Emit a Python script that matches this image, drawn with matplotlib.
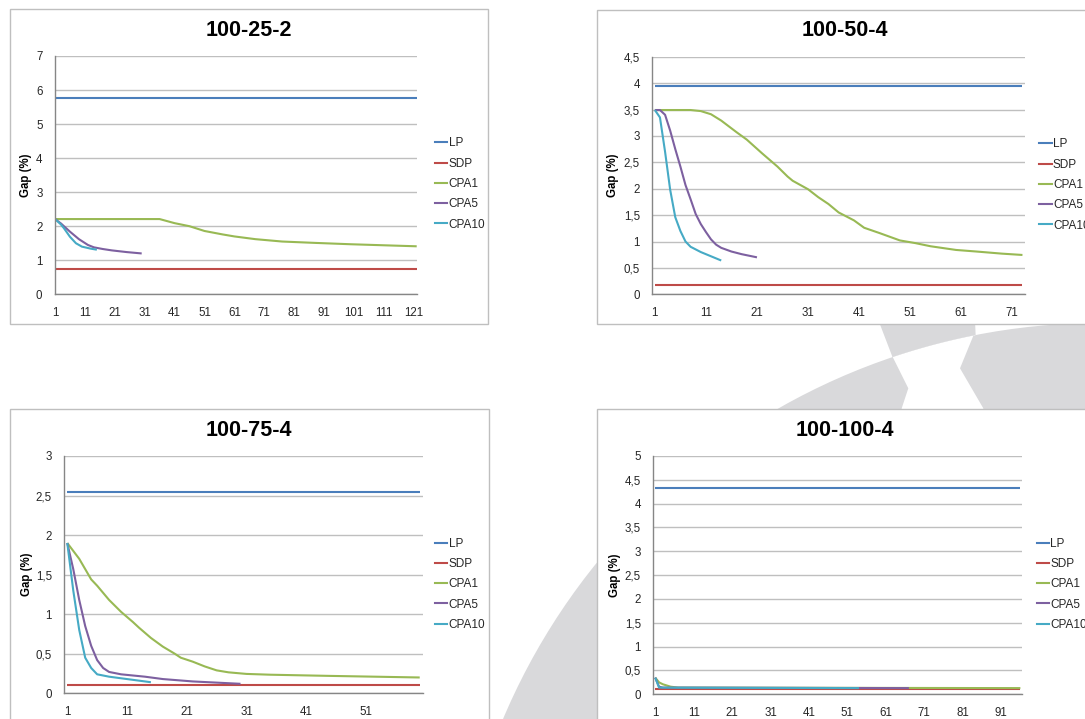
import numpy as np
import matplotlib
matplotlib.use("Agg")
import matplotlib.pyplot as plt
from matplotlib.patches import Rectangle, Circle, Polygon
from matplotlib import transforms
from matplotlib.lines import Line2D

# ---------------- data ----------------
series_names = ["LP", "SDP", "CPA1", "CPA5", "CPA10"]
series_colors = ["#4A7EBB", "#BE4B48", "#98B954", "#7D60A0", "#46AAC5"]

# Panel 1: 100-25-2
p1_title = "100-25-2"
p1_n = 122
p1_lp = 5.76
p1_sdp = 0.75
p1_cpa1_x = [1, 36, 41, 46, 51, 57, 61, 68, 77, 88, 100, 111, 122]
p1_cpa1_y = [2.21, 2.21, 2.09, 2.00, 1.86, 1.76, 1.70, 1.62, 1.55, 1.51, 1.47, 1.44, 1.41]
p1_cpa5_x = [1, 3, 6, 9, 12, 14, 17, 20, 25, 30]
p1_cpa5_y = [2.21, 2.08, 1.84, 1.62, 1.45, 1.38, 1.33, 1.29, 1.24, 1.20]
p1_cpa10_x = [1, 3, 4, 6, 8, 10, 13, 15]
p1_cpa10_y = [2.21, 2.05, 1.94, 1.69, 1.50, 1.40, 1.34, 1.31]
p1_yticks = [0, 1, 2, 3, 4, 5, 6, 7]
p1_ylabels = ["0", "1", "2", "3", "4", "5", "6", "7"]
p1_xticks = [1, 11, 21, 31, 41, 51, 61, 71, 81, 91, 101, 111, 121]

# Panel 2: 100-50-4
p2_title = "100-50-4"
p2_n = 73
p2_lp = 3.95
p2_sdp = 0.18
p2_cpa1_x = [1, 8, 10, 12, 14, 17, 19, 22, 25, 27, 28, 31, 33, 35, 37, 40, 42, 45, 49, 52, 55, 60, 64, 69, 73]
p2_cpa1_y = [3.49, 3.49, 3.47, 3.41, 3.29, 3.07, 2.93, 2.67, 2.42, 2.23, 2.15, 1.99, 1.84, 1.71, 1.55,
             1.40, 1.26, 1.16, 1.02, 0.97, 0.91, 0.84, 0.81, 0.77, 0.745]
p2_cpa5_x = [1, 2, 3, 4, 5, 6, 7, 8, 9, 10, 11, 12, 13, 14, 16, 18, 21]
p2_cpa5_y = [3.49, 3.49, 3.40, 3.10, 2.75, 2.42, 2.07, 1.80, 1.52, 1.33, 1.18, 1.04, 0.94, 0.88, 0.81, 0.76, 0.70]
p2_cpa10_x = [1, 2, 3, 4, 5, 6, 7, 8, 10, 12, 14]
p2_cpa10_y = [3.49, 3.35, 2.70, 1.98, 1.46, 1.20, 1.00, 0.90, 0.80, 0.72, 0.64]
p2_yticks = [0, 0.5, 1, 1.5, 2, 2.5, 3, 3.5, 4, 4.5]
p2_ylabels = ["0", "0,5", "1", "1,5", "2", "2,5", "3", "3,5", "4", "4,5"]
p2_xticks = [1, 11, 21, 31, 41, 51, 61, 71]

# Panel 3: 100-75-4
p3_title = "100-75-4"
p3_n = 60
p3_lp = 2.55
p3_sdp = 0.10
p3_cpa1_x = [1, 3, 5, 6, 8, 10, 12, 13, 15, 17, 19, 20, 22, 24, 26, 28, 31, 35, 45, 60]
p3_cpa1_y = [1.90, 1.70, 1.44, 1.36, 1.18, 1.03, 0.90, 0.83, 0.70, 0.59, 0.50, 0.45, 0.40, 0.34,
             0.29, 0.265, 0.245, 0.235, 0.22, 0.20]
p3_cpa5_x = [1, 2, 3, 4, 5, 6, 7, 8, 10, 14, 17, 22, 30]
p3_cpa5_y = [1.90, 1.57, 1.18, 0.85, 0.60, 0.42, 0.32, 0.27, 0.24, 0.21, 0.18, 0.15, 0.12]
p3_cpa10_x = [1, 2, 3, 4, 5, 6, 8, 11, 15]
p3_cpa10_y = [1.90, 1.30, 0.80, 0.45, 0.32, 0.24, 0.21, 0.18, 0.14]
p3_yticks = [0, 0.5, 1, 1.5, 2, 2.5, 3]
p3_ylabels = ["0", "0,5", "1", "1,5", "2", "2,5", "3"]
p3_xticks = [1, 11, 21, 31, 41, 51]

# Panel 4: 100-100-4
p4_title = "100-100-4"
p4_n = 96
p4_lp = 4.32
p4_sdp = 0.12
p4_cpa1_x = [1, 2, 3, 5, 7, 96]
p4_cpa1_y = [0.35, 0.25, 0.21, 0.16, 0.14, 0.13]
p4_cpa5_x = [1, 2, 3, 67]
p4_cpa5_y = [0.35, 0.16, 0.14, 0.13]
p4_cpa10_x = [1, 2, 54]
p4_cpa10_y = [0.35, 0.14, 0.13]
p4_yticks = [0, 0.5, 1, 1.5, 2, 2.5, 3, 3.5, 4, 4.5, 5]
p4_ylabels = ["0", "0,5", "1", "1,5", "2", "2,5", "3", "3,5", "4", "4,5", "5"]
p4_xticks = [1, 11, 21, 31, 41, 51, 61, 71, 81, 91]

# ---------------- layout / style ----------------
W, H = 1085, 719
plt.rcParams["font.family"] = ["Liberation Sans", "DejaVu Sans"]
fig = plt.figure(figsize=(W / 100, H / 100), dpi=100)
fig.patch.set_facecolor("white")
px = transforms.Affine2D().scale(1 / W, -1 / H).translate(0, 1) + fig.transFigure

# background decoration (gray segmented ring)
BG = "#D9D9DB"
cx, cy, r = 1100, 971, 648
fig.add_artist(Circle((cx, cy), r, transform=px, facecolor=BG, edgecolor="none", zorder=0))


def arc_pts(p_from, p_to, k=30):
    a0 = np.arctan2(p_from[1] - cy, p_from[0] - cx)
    a1 = np.arctan2(p_to[1] - cy, p_to[0] - cx)
    aa = np.linspace(a0, a1, k)
    return list(zip(cx + r * np.cos(aa), cy + r * np.sin(aa)))


pa, pb = (891.7, 355), (975, 331.7)
cut = [pa, (908.3, 388.3), (901.7, 408.3), (901.7, 440), (983.3, 440), (983.3, 408.3), (960, 368.3), pb] + arc_pts(pb, pa)
fig.add_artist(Polygon(cut, closed=True, transform=px, facecolor="white", edgecolor="none", zorder=0.5))
outer = [(878.3, 320), pa] + arc_pts(pa, pb) + [(975, 320)]
fig.add_artist(Polygon(outer, closed=True, transform=px, facecolor=BG, edgecolor="none", zorder=0.5))

panels = [
    dict(title=p1_title, n=p1_n, lp=p1_lp, sdp=p1_sdp,
         cx=[p1_cpa1_x, p1_cpa5_x, p1_cpa10_x], cy=[p1_cpa1_y, p1_cpa5_y, p1_cpa10_y],
         yt=p1_yticks, yl=p1_ylabels, xt=p1_xticks,
         box=(10, 9, 488, 324), ax=(55, 56, 416.7, 294.3), xlim=(1, p1_n),
         tcx=249, tcy=30.7, ylx=26, legx=435, legy=184),
    dict(title=p2_title, n=p2_n, lp=p2_lp, sdp=p2_sdp,
         cx=[p2_cpa1_x, p2_cpa5_x, p2_cpa10_x], cy=[p2_cpa1_y, p2_cpa5_y, p2_cpa10_y],
         yt=p2_yticks, yl=p2_ylabels, xt=p2_xticks,
         box=(597, 10, 1100, 324), ax=(652.3, 56.7, 1025, 294.3), xlim=(0.5, p2_n + 0.5),
         tcx=845, tcy=30.7, ylx=613.3, legx=1039.3, legy=185),
    dict(title=p3_title, n=p3_n, lp=p3_lp, sdp=p3_sdp,
         cx=[p3_cpa1_x, p3_cpa5_x, p3_cpa10_x], cy=[p3_cpa1_y, p3_cpa5_y, p3_cpa10_y],
         yt=p3_yticks, yl=p3_ylabels, xt=p3_xticks,
         box=(10, 409, 489, 740), ax=(64.3, 456, 422.7, 693.3), xlim=(0.5, p3_n + 0.5),
         tcx=249.3, tcy=430.7, ylx=26.7, legx=435, legy=584.3),
    dict(title=p4_title, n=p4_n, lp=p4_lp, sdp=p4_sdp,
         cx=[p4_cpa1_x, p4_cpa5_x, p4_cpa10_x], cy=[p4_cpa1_y, p4_cpa5_y, p4_cpa10_y],
         yt=p4_yticks, yl=p4_ylabels, xt=p4_xticks,
         box=(597, 409, 1100, 740), ax=(653.3, 456, 1022.3, 694.3), xlim=(0.5, p4_n + 0.5),
         tcx=845, tcy=430, ylx=615, legx=1036.7, legy=584.3),
]

TXT = "#262626"
LW = 1.5
for p in panels:
    x0, y0, x1, y1 = p["box"]
    fig.add_artist(Rectangle((x0, y0), x1 - x0, y1 - y0, transform=px, facecolor="white",
                             edgecolor="#BFBFBF", lw=1.0, zorder=1))
    L, T, R, B = p["ax"]
    ax = fig.add_axes([L / W, 1 - B / H, (R - L) / W, (B - T) / H], zorder=2)
    ax.set_facecolor("none")
    n = p["n"]
    ax.plot([1, n], [p["lp"], p["lp"]], color=series_colors[0], lw=LW, solid_capstyle="butt")
    ax.plot([1, n], [p["sdp"], p["sdp"]], color=series_colors[1], lw=LW, solid_capstyle="butt")
    for xs, ys, c in zip(p["cx"], p["cy"], series_colors[2:]):
        ax.plot(xs, ys, color=c, lw=LW, solid_capstyle="butt")
    ax.set_xlim(*p["xlim"])
    ax.set_ylim(p["yt"][0], p["yt"][-1])
    ax.set_yticks(p["yt"])
    ax.set_yticklabels(p["yl"])
    ax.set_xticks(p["xt"])
    ax.set_xticklabels([str(v) for v in p["xt"]])
    ax.tick_params(axis="both", length=0, labelsize=8.3, colors=TXT)
    ax.tick_params(axis="y", pad=9)
    ax.tick_params(axis="x", pad=9.5)
    ax.yaxis.grid(True, color="#BFBFBF", lw=1.0)
    ax.set_axisbelow(True)
    for s in ["top", "right"]:
        ax.spines[s].set_visible(False)
    for s in ["left", "bottom"]:
        ax.spines[s].set_color("#868686")
        ax.spines[s].set_linewidth(1.0)
    ax.set_ylabel("Gap (%)", fontsize=8.3, fontweight="bold", color="black", va="center")
    ax.yaxis.set_label_coords((p["ylx"] - L) / (R - L), 0.5)
    fig.text(p["tcx"] / W, 1 - p["tcy"] / H, p["title"], ha="center", va="center",
             fontsize=15.5, fontweight="bold", color="black")
    handles = [Line2D([], [], color=c, lw=LW) for c in series_colors]
    leg = ax.legend(handles, series_names, loc="center left",
                    bbox_to_anchor=(p["legx"] / W, 1 - p["legy"] / H), bbox_transform=fig.transFigure,
                    frameon=False, handlelength=1.05, handletextpad=0.1, labelspacing=0.7,
                    borderpad=0, borderaxespad=0, fontsize=8.5)
    for t in leg.get_texts():
        t.set_color(TXT)

fig.savefig("out.png", dpi=100, facecolor="white")
